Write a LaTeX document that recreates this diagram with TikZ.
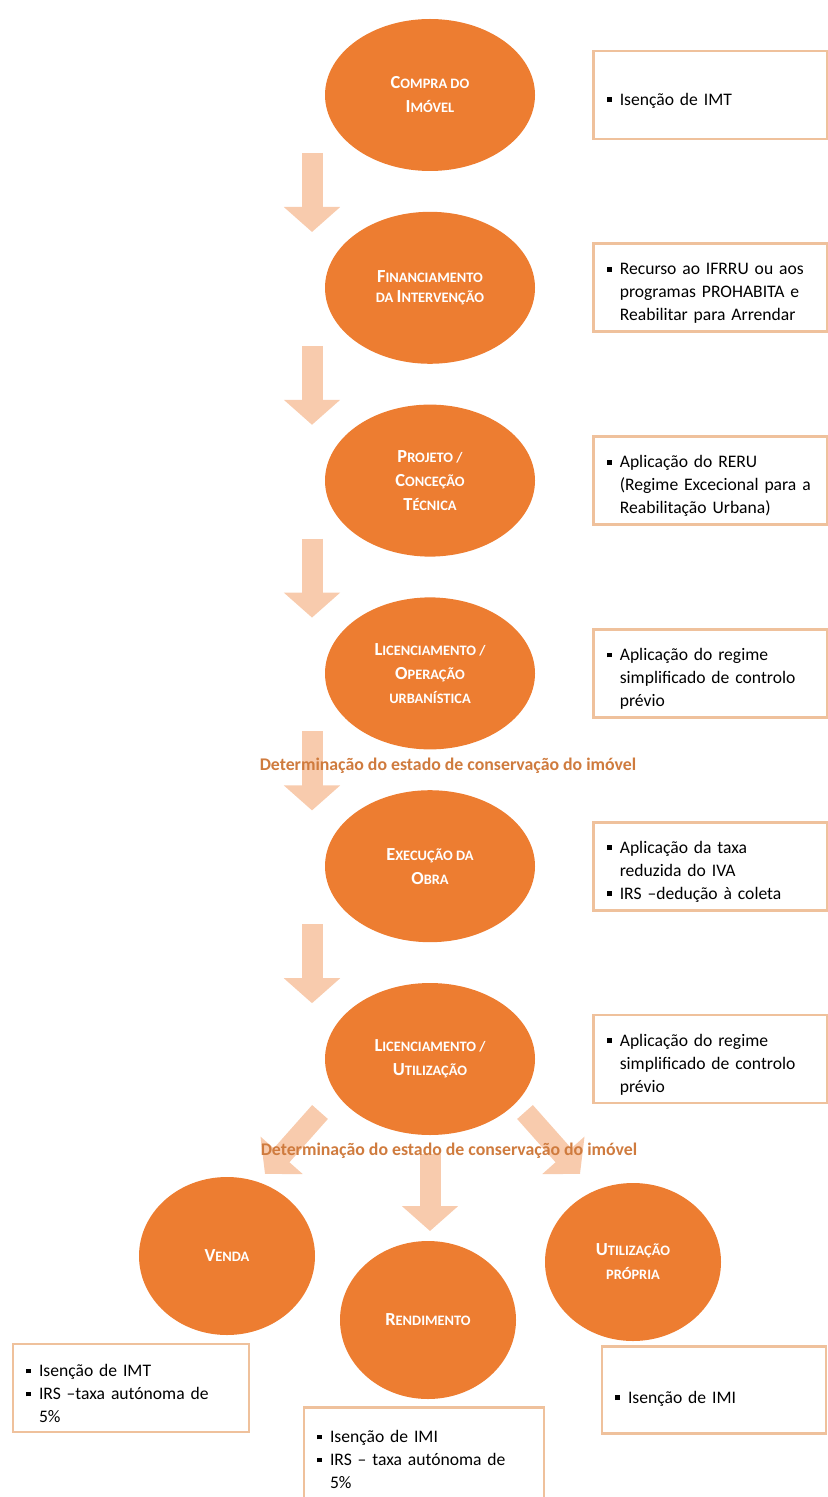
\documentclass[tikz,border=0pt]{standalone}
\usepackage{fontspec}
\setmainfont{Carlito}
\usetikzlibrary{arrows.meta,positioning,shapes.geometric,calc,backgrounds}
\definecolor{Stage}{HTML}{ED7D31}
\definecolor{Flow}{HTML}{F8CBAD}
\definecolor{Frame}{HTML}{EFC19C}
\definecolor{Cond}{HTML}{CF7B3E}

\newcommand\capw[2]{{\fontsize{9.2}{10}\selectfont #1}\MakeUppercase{#2}}
\newcommand\itm[1]{\par\noindent\hangindent=6.5pt\hangafter=1\makebox[6.5pt][l]{\rule[1.5pt]{2.4pt}{2.4pt}}#1\par}

\begin{document}
\begin{tikzpicture}[
  node distance=20pt,
  stage/.style={ellipse,fill=Stage,text=white,minimum width=105pt,minimum height=76pt,inner sep=0pt,align=center,font=\fontsize{7.2}{12}\selectfont\bfseries},
  leaf/.style={stage,minimum width=88pt,minimum height=79pt},
  note/.style={draw=Frame,line width=1.4pt,fill=white,text width=104pt,inner xsep=6.5pt,minimum height=44pt,align=left,font=\fontsize{8.8}{11.5}\selectfont},
  flow/.style={draw=Flow,line width=10.5pt,-{Triangle[width=27.5pt,length=12.5pt]}},
  cond/.style={text=Cond,font=\fontsize{8.9}{10}\selectfont\bfseries}
]
\useasboundingbox (0,0) rectangle (413.5pt,-748.5pt);

% main column
\node[stage] (buy) at (215pt,-47.5pt) {\capw{C}{ompra do}\\\capw{I}{móvel}};
\node[stage,below=of buy] (fund) {\capw{F}{inanciamento}\\[-2pt]\MakeUppercase{da }\capw{I}{ntervenção}};
\node[stage,below=of fund] (design) {\capw{P}{rojeto /}\\\capw{C}{onceção}\\\capw{T}{écnica}};
\node[stage,below=of design] (permit) {\capw{L}{icenciamento /}\\\capw{O}{peração}\\\MakeUppercase{urbanística}};
\node[stage,below=of permit] (works) {\capw{E}{xecução da}\\\capw{O}{bra}};
\node[stage,below=of works] (use) {\capw{L}{icenciamento /}\\\capw{U}{tilização}};

% benefits
\node[note,right=28.5pt of buy] (buynote) {\itm{Isenção de IMT}};
\node[note,right=28.5pt of fund] (fundnote) {\itm{Recurso ao IFRRU ou aos\newline programas PROHABITA e\newline Reabilitar para Arrendar}};
\node[note,right=28.5pt of design] (designnote) {\itm{Aplicação do RERU\newline (Regime Excecional para a\newline Reabilitação Urbana)}};
\node[note,right=28.5pt of permit] (permitnote) {\itm{Aplicação do regime\newline simplificado de controlo\newline prévio}};
\node[note,right=28.5pt of works] (worksnote) {\itm{Aplicação da taxa\newline reduzida do IVA}\itm{IRS –dedução à coleta}};
\node[note,right=28.5pt of use] (usenote) {\itm{Aplicação do regime\newline simplificado de controlo\newline prévio}};

\node[cond] (det1) at ($(permit)+(9pt,-46pt)$) {Determinação do estado de conservação do imóvel};
\node[cond] (det2) at ($(use)+(9.5pt,-46pt)$) {Determinação do estado de conservação do imóvel};

% outcomes
\node[leaf] (sale) at ($(use)+(-101.5pt,-98.5pt)$) {\capw{V}{enda}};
\node[leaf] (rent) at ($(use)+(-1pt,-130.5pt)$) {\capw{R}{endimento}};
\node[leaf] (own) at ($(use)+(101.5pt,-101.5pt)$) {\capw{U}{tilização}\\\MakeUppercase{própria}};

\node[note,text width=105pt,minimum height=44pt] (salenote) at ($(sale)+(-48pt,-66pt)$) {\itm{Isenção de IMT}\itm{IRS –taxa autónoma de\newline 5\%}};
\node[note,anchor=north,text width=107pt,minimum height=0pt,inner ysep=6pt] (rentnote) at ($(rent)+(-2pt,-43pt)$) {\itm{Isenção de IMI}\itm{IRS – taxa autónoma de\newline 5\%}};
\node[note,text width=99pt,minimum height=43.5pt,text depth=10pt] (ownnote) at ($(own)+(40.5pt,-64pt)$) {\itm{Isenção de IMI}};

% block arrows
\begin{scope}[on background layer]
\foreach \a in {buy,fund,design,permit,works}{
  \coordinate (\a-s) at ($(\a)+(-59pt,-29pt)$);
  \coordinate (\a-e) at ($(\a)+(-59pt,-68.5pt)$);
  \draw[flow] (\a-s) -- (\a-e);
}
\coordinate (sale-s) at ($(use)+(-55pt,-26.5pt)$);
\coordinate (sale-e) at ($(use)+(-82.5pt,-57.5pt)$);
\coordinate (rent-s) at ($(use)+(0pt,-47.5pt)$);
\coordinate (rent-e) at ($(use)+(0pt,-86pt)$);
\coordinate (own-s) at ($(use)+(47.5pt,-26.5pt)$);
\coordinate (own-e) at ($(use)+(75pt,-57.5pt)$);
\draw[flow] (sale-s) -- (sale-e);
\draw[flow] (rent-s) -- (rent-e);
\draw[flow] (own-s) -- (own-e);
\end{scope}
\end{tikzpicture}
\end{document}
